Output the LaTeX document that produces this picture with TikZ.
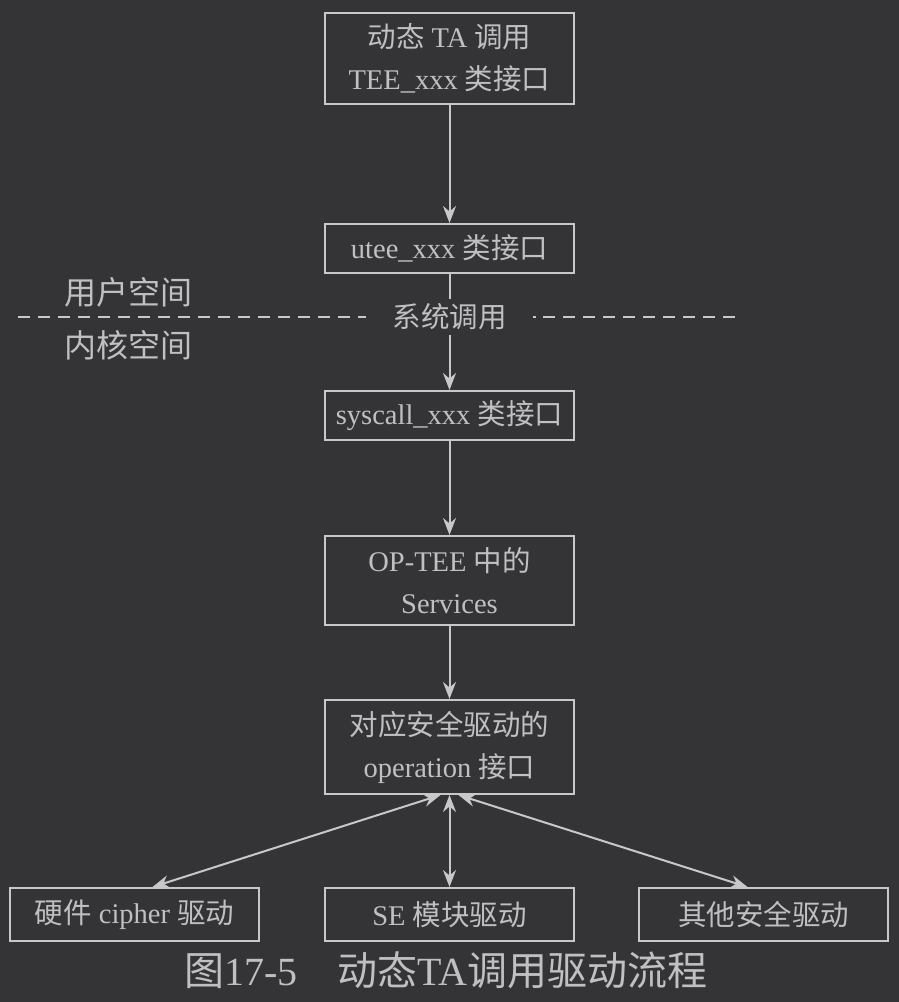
\documentclass[tikz,border=0pt]{standalone}
\usepackage{fontspec}
\setmainfont{Liberation Serif}
\newfontfamily\cjk{Noto Sans CJK SC}
\usetikzlibrary{arrows.meta,positioning}
\definecolor{bgc}{RGB}{52,52,54}
\definecolor{linec}{RGB}{200,200,202}
\definecolor{txtc}{RGB}{192,192,194}

\begin{document}
\begin{tikzpicture}[x=1pt,y=1pt,>={Stealth[length=17pt,width=13pt]},node distance=118pt and 64pt,
 box/.style={draw=linec,line width=2pt,text=txtc,minimum width=249pt,minimum height=49pt,align=center,inner sep=0pt,font=\fontsize{28.5}{42}\selectfont},
 tall/.style={box,minimum height=91pt},
 tag/.style={text=txtc,inner sep=0pt,font=\cjk\fontsize{32}{34}\selectfont},
 conn/.style={draw=linec,line width=2pt},
 sep/.style={draw=linec,line width=2pt,dash pattern=on 12pt off 8pt}]
\fill[bgc] (0,0) rectangle (899,-1002);
\useasboundingbox (0,0) rectangle (899,-1002);
% call chain
\node[tall] (ta) at (449.5,-58.5) {{\cjk 动态} TA {\cjk 调用}\\TEE\_xxx {\cjk 类接口}};
\node[box,below=118pt of ta] (utee) {utee\_xxx {\cjk 类接口}};
\node[tag,fill=bgc,inner ysep=5pt,font=\cjk\fontsize{28.5}{30}\selectfont] (sc) at (449.5,-317) {系统调用};
\node[box,below=116pt of utee] (sys) {syscall\_xxx {\cjk 类接口}};
\node[tall,below=94pt of sys,minimum height=89pt] (svc) {OP-TEE {\cjk 中的}\\Services};
\node[tall,below=73pt of svc,minimum height=94pt] (ops) {{\cjk 对应安全驱动的}\\operation {\cjk 接口}};
% drivers
\node[box,below=92pt of ops,minimum height=53pt] (se) {SE {\cjk 模块驱动}};
\node[box,left=of se,minimum height=53pt] (hw) {{\cjk 硬件} cipher {\cjk 驱动}};
\node[box,right=63pt of se,minimum height=53pt] (oth) {{\cjk 其他安全驱动}};
% user / kernel split
\node[tag] (usr) at (128,-292) {用户空间};
\node[tag] (krn) at (128,-345) {内核空间};
\coordinate (dl) at (18,-317);
\coordinate (dm) at (366,-317);
\coordinate (dd) at (533,-317);
\coordinate (de) at (536,-317);
\coordinate (dn) at (543,-317);
\coordinate (dr) at (740,-317);
\draw[sep] (dl) -- (dm);
\draw[conn] (dd) -- (de);
\draw[sep] (dn) -- (dr);
\node[text=txtc,font=\fontsize{40}{42}\selectfont] (cap) at (446,-970) {{\cjk 图}17-5\hspace{1em}{\cjk 动态}TA{\cjk 调用驱动流程}};
\draw[conn,->] (ta) -- (utee);
\draw[conn] (utee) -- (sc);
\draw[conn,->] (sc) -- (sys);
\draw[conn,->] (sys) -- (svc);
\draw[conn,->] (svc) -- (ops);
\draw[conn,<->] ([xshift=-9pt]ops.south) -- ([xshift=18pt]hw.north);
\draw[conn,<->] (ops) -- (se);
\draw[conn,<->] ([xshift=9pt]ops.south) -- ([xshift=-16pt]oth.north);
\end{tikzpicture}
\end{document}
